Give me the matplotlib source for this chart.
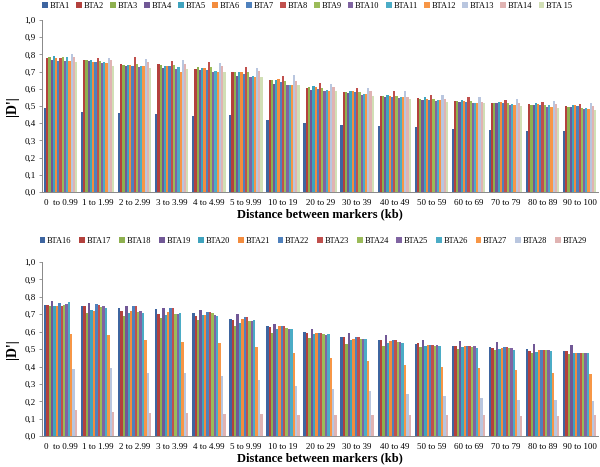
import numpy as np
import matplotlib
matplotlib.use("Agg")
import matplotlib.pyplot as plt

# Categories (distance classes)
distances = ['0  to 0.99', '1 to 1.99', '2 to 2.99', '3 to 3.99', '4 to 4.99',
             '5 to 9.99', '10 to 19', '20 to 29', '30 to 39', '40 to 49',
             '50 to 59', '60 to 69', '70 to 79', '80 to 89', '90 to 100']

# |D'| per chromosome, top panel
bta1 = [0.49, 0.463, 0.457, 0.453, 0.442, 0.446, 0.419, 0.403, 0.39, 0.384, 0.376, 0.368, 0.36, 0.357, 0.353]
bta2 = [0.78, 0.765, 0.745, 0.745, 0.715, 0.695, 0.65, 0.605, 0.58, 0.56, 0.545, 0.53, 0.52, 0.51, 0.50]
bta3 = [0.785, 0.765, 0.74, 0.74, 0.725, 0.695, 0.65, 0.61, 0.58, 0.56, 0.54, 0.53, 0.515, 0.505, 0.495]
bta4 = [0.77, 0.76, 0.735, 0.72, 0.71, 0.675, 0.63, 0.595, 0.575, 0.55, 0.535, 0.525, 0.515, 0.505, 0.495]
bta5 = [0.79, 0.765, 0.74, 0.735, 0.72, 0.695, 0.65, 0.615, 0.59, 0.565, 0.55, 0.535, 0.525, 0.515, 0.505]
bta6 = [0.78, 0.755, 0.74, 0.735, 0.72, 0.695, 0.655, 0.61, 0.585, 0.56, 0.54, 0.53, 0.525, 0.51, 0.505]
bta7 = [0.76, 0.755, 0.735, 0.73, 0.71, 0.685, 0.64, 0.60, 0.58, 0.555, 0.535, 0.525, 0.52, 0.505, 0.50]
bta8 = [0.78, 0.78, 0.785, 0.76, 0.755, 0.725, 0.675, 0.635, 0.605, 0.585, 0.565, 0.55, 0.535, 0.525, 0.51]
bta9 = [0.785, 0.76, 0.745, 0.74, 0.725, 0.695, 0.645, 0.605, 0.58, 0.56, 0.54, 0.53, 0.515, 0.505, 0.49]
bta10 = [0.76, 0.75, 0.725, 0.715, 0.70, 0.67, 0.625, 0.59, 0.565, 0.545, 0.53, 0.515, 0.505, 0.495, 0.485]
bta11 = [0.785, 0.755, 0.73, 0.725, 0.705, 0.675, 0.625, 0.595, 0.57, 0.55, 0.535, 0.52, 0.51, 0.505, 0.49]
bta12 = [0.76, 0.75, 0.73, 0.70, 0.70, 0.67, 0.625, 0.59, 0.57, 0.55, 0.535, 0.515, 0.505, 0.495, 0.48]
bta13 = [0.80, 0.78, 0.775, 0.77, 0.75, 0.72, 0.68, 0.63, 0.605, 0.585, 0.565, 0.55, 0.54, 0.53, 0.52]
bta14 = [0.785, 0.77, 0.755, 0.745, 0.735, 0.705, 0.645, 0.61, 0.59, 0.555, 0.54, 0.525, 0.52, 0.51, 0.50]
bta15 = [0.755, 0.735, 0.72, 0.715, 0.695, 0.67, 0.625, 0.59, 0.56, 0.54, 0.525, 0.515, 0.50, 0.49, 0.475]

# bottom panel
bta16 = [0.755, 0.75, 0.735, 0.73, 0.705, 0.675, 0.63, 0.60, 0.57, 0.55, 0.53, 0.515, 0.51, 0.50, 0.49]
bta17 = [0.755, 0.745, 0.72, 0.70, 0.69, 0.665, 0.625, 0.59, 0.57, 0.55, 0.535, 0.52, 0.505, 0.49, 0.49]
bta18 = [0.745, 0.71, 0.69, 0.68, 0.665, 0.63, 0.595, 0.565, 0.53, 0.515, 0.51, 0.50, 0.495, 0.48, 0.47]
bta19 = [0.775, 0.765, 0.745, 0.735, 0.725, 0.70, 0.645, 0.615, 0.595, 0.58, 0.555, 0.545, 0.54, 0.53, 0.525]
bta20 = [0.745, 0.725, 0.705, 0.695, 0.695, 0.65, 0.615, 0.585, 0.555, 0.535, 0.52, 0.51, 0.50, 0.485, 0.475]
bta21 = [0.745, 0.72, 0.72, 0.715, 0.695, 0.675, 0.63, 0.59, 0.56, 0.545, 0.525, 0.515, 0.505, 0.495, 0.48]
bta22 = [0.765, 0.76, 0.745, 0.735, 0.715, 0.685, 0.635, 0.595, 0.57, 0.55, 0.525, 0.52, 0.51, 0.495, 0.48]
bta23 = [0.745, 0.755, 0.745, 0.735, 0.715, 0.685, 0.635, 0.595, 0.57, 0.55, 0.525, 0.515, 0.51, 0.495, 0.48]
bta24 = [0.755, 0.74, 0.715, 0.70, 0.705, 0.66, 0.62, 0.585, 0.56, 0.54, 0.52, 0.51, 0.505, 0.495, 0.475]
bta25 = [0.76, 0.745, 0.72, 0.70, 0.695, 0.66, 0.615, 0.58, 0.56, 0.54, 0.525, 0.515, 0.505, 0.495, 0.48]
bta26 = [0.77, 0.735, 0.71, 0.705, 0.69, 0.665, 0.615, 0.585, 0.56, 0.535, 0.52, 0.505, 0.495, 0.49, 0.475]
bta27 = [0.585, 0.58, 0.55, 0.54, 0.535, 0.51, 0.475, 0.45, 0.43, 0.41, 0.40, 0.39, 0.38, 0.365, 0.355]
bta28 = [0.385, 0.39, 0.365, 0.365, 0.345, 0.32, 0.29, 0.27, 0.26, 0.24, 0.23, 0.22, 0.21, 0.205, 0.20]
bta29 = [0.15, 0.14, 0.135, 0.135, 0.13, 0.125, 0.12, 0.12, 0.12, 0.12, 0.12, 0.12, 0.115, 0.115, 0.12]

top_labels = ['BTA1', 'BTA2', 'BTA3', 'BTA4', 'BTA5', 'BTA6', 'BTA7', 'BTA8',
              'BTA9', 'BTA10', 'BTA11', 'BTA12', 'BTA13', 'BTA14', 'BTA 15']
bottom_labels = ['BTA16', 'BTA17', 'BTA18', 'BTA19', 'BTA20', 'BTA21', 'BTA22',
                 'BTA23', 'BTA24', 'BTA25', 'BTA26', 'BTA27', 'BTA28', 'BTA29']

top_series = [bta1, bta2, bta3, bta4, bta5, bta6, bta7, bta8, bta9, bta10,
              bta11, bta12, bta13, bta14, bta15]
bottom_series = [bta16, bta17, bta18, bta19, bta20, bta21, bta22, bta23,
                 bta24, bta25, bta26, bta27, bta28, bta29]

# Excel-like palette
colors = ['#3E65A0', '#B3413D', '#8EB04F', '#715896', '#3FA3BE', '#F38C3E',
          '#4F81BD', '#C0504D', '#9BBB59', '#8064A2', '#4BACC6', '#F79646',
          '#B9C6DF', '#E0B3B2', '#D1DFB5']

plt.rcParams['font.family'] = ['Liberation Serif', 'DejaVu Serif']

fig = plt.figure(figsize=(6.0, 4.67), dpi=100)
ax_top = fig.add_axes([0.07, 0.589, 0.927, 0.368])
ax_bot = fig.add_axes([0.07, 0.066, 0.927, 0.373])


def draw_panel(ax, series, labels, legend_x, legend_y, colspace):
    n = len(series)
    x = np.arange(len(distances))
    group_w = 0.9
    w = group_w / n
    handles = []
    for i, vals in enumerate(series):
        h = ax.bar(x - group_w / 2 + w * (i + 0.5), vals, width=w,
                   color=colors[i], label=labels[i], linewidth=0)
        handles.append(h)
    ax.set_xlim(-0.5, len(distances) - 0.5)
    ax.set_ylim(0, 1.0)
    ax.set_yticks(np.arange(0, 1.01, 0.1))
    ax.set_yticklabels([f'{v:.1f}'.replace('.', ',') for v in np.arange(0, 1.01, 0.1)],
                       fontsize=6.5)
    ax.set_xticks(x)
    ax.set_xticklabels(distances, fontsize=6.5)
    ax.tick_params(axis='x', length=0, pad=5)
    ax.tick_params(axis='y', length=2.5, width=0.6, color='#888888', pad=2)
    for s in ['top', 'right']:
        ax.spines[s].set_visible(False)
    for s in ['left', 'bottom']:
        ax.spines[s].set_color('#888888')
        ax.spines[s].set_linewidth(0.7)
    ax.set_xlabel('Distance between markers (kb)', fontsize=9, fontweight='bold',
                  labelpad=1)
    ax.set_ylabel("|D'|", fontsize=10, fontweight='bold', labelpad=4)
    fig.legend(handles=handles, labels=labels, ncol=n, loc='center left',
               bbox_to_anchor=(legend_x, legend_y), frameon=False, fontsize=6,
               handlelength=0.7, handleheight=0.7, handletextpad=0.2,
               columnspacing=colspace, borderaxespad=0, borderpad=0)


draw_panel(ax_top, top_series, top_labels, 0.07, 0.988, 0.75)
draw_panel(ax_bot, bottom_series, bottom_labels, 0.066, 0.484, 0.93)

fig.savefig('out.png', dpi=100)
